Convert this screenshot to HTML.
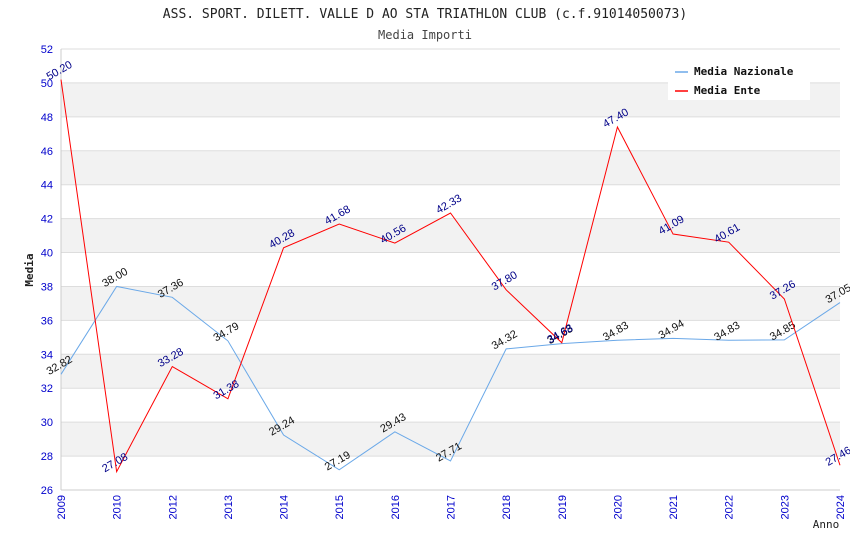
<!DOCTYPE html>
<html><head><meta charset="utf-8"><style>
body{margin:0;background:#fff;}
svg{display:block;font-family:"Liberation Sans",sans-serif;}
.mono{font-family:"DejaVu Sans Mono","Liberation Mono",monospace;}
</style></head><body>
<svg id="chart" width="850" height="550">
<text class="mono" x="425" y="18" text-anchor="middle" font-size="13" fill="#222">ASS. SPORT. DILETT. VALLE D AO STA TRIATHLON CLUB (c.f.91014050073)</text>
<text class="mono" x="425" y="39" text-anchor="middle" font-size="12" fill="#444">Media Importi</text>
<g id="grid"></g><g id="axes"></g><g id="series"></g>
<text class="mono" x="33" y="270" text-anchor="middle" font-size="11" font-weight="bold" fill="#222" transform="rotate(-90 33 270)">Media</text>
<text class="mono" x="826" y="528" text-anchor="middle" font-size="11" fill="#222">Anno</text>
<g>
<rect x="668" y="60" width="142" height="40" fill="#fff"/>
<g><line x1="675" y1="72" x2="688" y2="72" stroke="#6aa8e8" stroke-width="1.5"/><text class="mono" x="694" y="75" font-size="11" font-weight="bold" fill="#111">Media Nazionale</text></g>
<g><line x1="675" y1="91" x2="688" y2="91" stroke="#f00" stroke-width="1.5"/><text class="mono" x="694" y="94" font-size="11" font-weight="bold" fill="#111">Media Ente</text></g>
</g>
</svg>
<script>
const categories=["2009","2010","2012","2013","2014","2015","2016","2017","2018","2019","2020","2021","2022","2023","2024"];
const nazionale=[32.82,38.00,37.36,34.79,29.24,27.19,29.43,27.71,34.32,34.63,34.83,34.94,34.83,34.85,37.05];
const ente=[50.20,27.08,33.28,31.38,40.28,41.68,40.56,42.33,37.80,34.68,47.40,41.09,40.61,37.26,27.46];
const yTicks=[26,28,30,32,34,36,38,40,42,44,46,48,50,52];
const NS="http://www.w3.org/2000/svg";
const X0=61,X1=840,Y0=490,Y1=49,YMIN=26,YMAX=52;
const xs=i=>X0+i*(X1-X0)/(categories.length-1);
const ys=v=>Y0-(v-YMIN)*(Y0-Y1)/(YMAX-YMIN);
function mk(t,a,p){const e=document.createElementNS(NS,t);for(const k in a)e.setAttribute(k,a[k]);p.appendChild(e);return e;}
const grid=document.getElementById('grid'),axes=document.getElementById('axes'),ser=document.getElementById('series');
for(let i=0;i<yTicks.length-1;i++){const a=yTicks[i],b=yTicks[i+1];
 if(i%2==1){const r=mk('rect',{x:X0,y:ys(b),width:X1-X0,height:ys(a)-ys(b),fill:'#f2f2f2'},grid);
 
 }}
yTicks.forEach(v=>{const l=mk('line',{x1:X0,x2:X1,y1:ys(v),y2:ys(v),stroke:'#ddd'},grid);
 
 
 const t=mk('text',{x:X0-8,y:ys(v)+4,'text-anchor':'end','font-size':11,fill:'#00c'},axes);t.textContent=v;
 
 });
mk('line',{x1:X0,x2:X0,y1:Y1,y2:Y0,stroke:'#ccc'},axes);
mk('line',{x1:X0,x2:X1,y1:Y0,y2:Y0,stroke:'#ccc'},axes);
categories.forEach((c,i)=>{const x=xs(i);
 const t=mk('text',{x:x+4,y:Y0+5,'text-anchor':'end','font-size':11,fill:'#00c',transform:`rotate(-90 ${x+4} ${Y0+5})`},axes);t.textContent=c;
 
 });
function series(data,color,lblColor,name){
 const pts=data.map((v,i)=>xs(i)+','+ys(v)).join(' ');
 const pl=mk('polyline',{points:pts,fill:'none',stroke:color,'stroke-width':1},ser);
 
 
 data.forEach((v,i)=>{const x=xs(i),y=ys(v)-6;
  const t=mk('text',{x:x,y:y,'text-anchor':'middle','font-size':11,fill:lblColor,transform:`rotate(-30 ${x} ${y})`},ser);t.textContent=v.toFixed(2);
  
  });
}
series(nazionale,'#6aa8e8','#111','nazionale');
series(ente,'#f00','#008','ente');
</script>
</body></html>
